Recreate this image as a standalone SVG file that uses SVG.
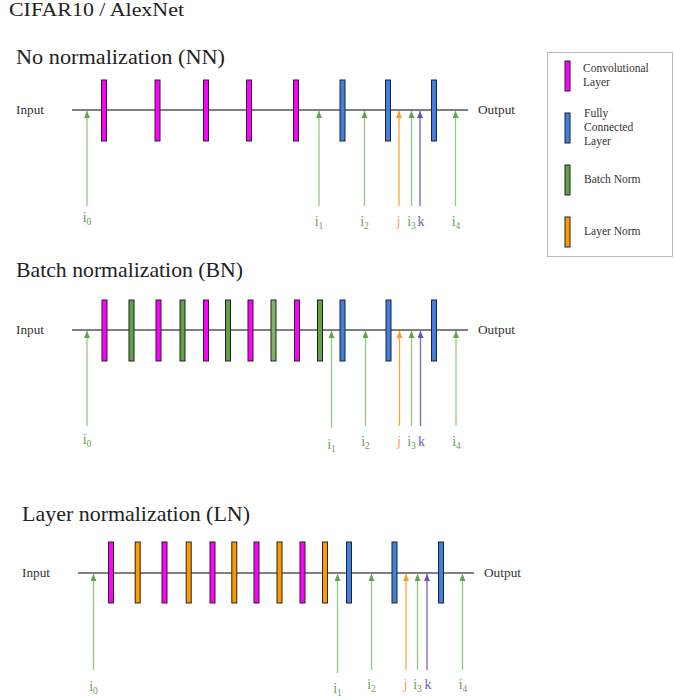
<svg xmlns="http://www.w3.org/2000/svg" width="674" height="700" viewBox="0 0 674 700">
<style>
text{font-family:"Liberation Serif","Times New Roman",serif;}
.title{font-size:21px;fill:#222;}
.small{font-size:12px;fill:#333;}
.leg{font-size:11.5px;fill:#333;}
.bar{stroke:#222;stroke-width:1;}
.conv{fill:#ff00ff;}
.fc{fill:#3f80e0;}
.bn{fill:#63a04a;}
.ln{fill:#ff9900;}
.axis{stroke:#555;stroke-width:1.5;fill:none;}
.ag{stroke:#7dbb68;stroke-opacity:0.8;stroke-width:1.3;marker-end:url(#hg);}
.ao{stroke:#ffa53a;stroke-width:1.3;marker-end:url(#ho);}
.ap{stroke:#7a63c0;stroke-width:1.3;marker-end:url(#hp);}
.lg{font-size:14px;fill:#6b9e55;text-anchor:middle;}
.lo{font-size:14px;fill:#f5a050;text-anchor:middle;}
.lp{font-size:14px;fill:#7060b8;text-anchor:middle;}
.sub{font-size:9.5px;}
</style>
<defs>
<marker id="hg" markerUnits="userSpaceOnUse" markerWidth="7" markerHeight="6" refX="7" refY="3" orient="auto"><path d="M0,0 L7,3 L0,6 z" fill="#62a24e"/></marker>
<marker id="ho" markerUnits="userSpaceOnUse" markerWidth="7" markerHeight="6" refX="7" refY="3" orient="auto"><path d="M0,0 L7,3 L0,6 z" fill="#ff9a2a"/></marker>
<marker id="hp" markerUnits="userSpaceOnUse" markerWidth="7" markerHeight="6" refX="7" refY="3" orient="auto"><path d="M0,0 L7,3 L0,6 z" fill="#6a50b8"/></marker>
</defs>
<rect width="674" height="700" fill="#fff"/>

<text x="9" y="16" style="font-size:19px;fill:#222" textLength="175" lengthAdjust="spacingAndGlyphs">CIFAR10 / AlexNet</text>

<!-- Section titles and io labels -->
<text class="title" x="16" y="64" textLength="209" lengthAdjust="spacingAndGlyphs">No normalization (NN)</text>
<text class="title" x="16" y="277" textLength="227" lengthAdjust="spacingAndGlyphs">Batch normalization (BN)</text>
<text class="title" x="22" y="521" textLength="228" lengthAdjust="spacingAndGlyphs">Layer normalization (LN)</text>

<text class="small" x="16" y="114" textLength="28" lengthAdjust="spacingAndGlyphs">Input</text>
<text class="small" x="478" y="114" textLength="37" lengthAdjust="spacingAndGlyphs">Output</text>
<text class="small" x="16" y="334" textLength="28" lengthAdjust="spacingAndGlyphs">Input</text>
<text class="small" x="478" y="334" textLength="37" lengthAdjust="spacingAndGlyphs">Output</text>
<text class="small" x="22" y="577" textLength="28" lengthAdjust="spacingAndGlyphs">Input</text>
<text class="small" x="484" y="577" textLength="37" lengthAdjust="spacingAndGlyphs">Output</text>

<!-- Connectors -->
<g id="connectors">
<line class="axis" x1="72" y1="110" x2="468" y2="110"/>
<line class="axis" x1="72" y1="330" x2="468" y2="330"/>
<line class="axis" x1="78" y1="573" x2="474" y2="573"/>
<!-- NN arrows -->
<line class="ag" x1="87" y1="206" x2="87" y2="111"/>
<line class="ag" x1="319" y1="206" x2="319" y2="111"/>
<line class="ag" x1="364.5" y1="206" x2="364.5" y2="111"/>
<line class="ao" x1="399" y1="206" x2="399" y2="111"/>
<line class="ag" x1="411.5" y1="206" x2="411.5" y2="111"/>
<line class="ap" x1="420" y1="206" x2="420" y2="111"/>
<line class="ag" x1="455.5" y1="206" x2="455.5" y2="111"/>
<!-- BN arrows -->
<line class="ag" x1="87" y1="426" x2="87" y2="331"/>
<line class="ag" x1="331.5" y1="428" x2="331.5" y2="331"/>
<line class="ag" x1="365.5" y1="426" x2="365.5" y2="331"/>
<line class="ao" x1="399.5" y1="426" x2="399.5" y2="331"/>
<line class="ag" x1="411.5" y1="426" x2="411.5" y2="331"/>
<line class="ap" x1="420.5" y1="426" x2="420.5" y2="331"/>
<line class="ag" x1="456" y1="426" x2="456" y2="331"/>
<!-- LN arrows -->
<line class="ag" x1="93.5" y1="670" x2="93.5" y2="574"/>
<line class="ag" x1="337.5" y1="673" x2="337.5" y2="574"/>
<line class="ag" x1="371.5" y1="670" x2="371.5" y2="574"/>
<line class="ao" x1="406" y1="670" x2="406" y2="574"/>
<line class="ag" x1="417.5" y1="670" x2="417.5" y2="574"/>
<line class="ap" x1="427" y1="670" x2="427" y2="574"/>
<line class="ag" x1="462.5" y1="670" x2="462.5" y2="574"/>
</g>

<!-- NN layers -->
<g id="nn-conv1"><rect class="bar conv" x="101.5" y="80" width="5" height="61"/></g>
<g id="nn-conv2"><rect class="bar conv" x="155" y="80" width="5" height="61"/></g>
<g id="nn-conv3"><rect class="bar conv" x="203.5" y="80" width="5" height="61"/></g>
<g id="nn-conv4"><rect class="bar conv" x="246.5" y="80" width="5" height="61"/></g>
<g id="nn-conv5"><rect class="bar conv" x="293.5" y="80" width="5" height="61"/></g>
<g id="nn-fc1"><rect class="bar fc" x="340" y="80" width="5" height="61"/></g>
<g id="nn-fc2"><rect class="bar fc" x="385.5" y="80" width="5" height="61"/></g>
<g id="nn-fc3"><rect class="bar fc" x="431.5" y="80" width="5" height="61"/></g>

<!-- BN layers -->
<g id="bn-conv1"><rect class="bar conv" x="102" y="300" width="5" height="61"/></g>
<g id="bn-bn1"><rect class="bar bn" x="129" y="300" width="5" height="61"/></g>
<g id="bn-conv2"><rect class="bar conv" x="156" y="300" width="5" height="61"/></g>
<g id="bn-bn2"><rect class="bar bn" x="180" y="300" width="5" height="61"/></g>
<g id="bn-conv3"><rect class="bar conv" x="203.5" y="300" width="5" height="61"/></g>
<g id="bn-bn3"><rect class="bar bn" x="225.5" y="300" width="5" height="61"/></g>
<g id="bn-conv4"><rect class="bar conv" x="248" y="300" width="5" height="61"/></g>
<g id="bn-bn4"><rect class="bar bn" x="271" y="300" width="5" height="61" style="fill:#7fb468"/></g>
<g id="bn-conv5"><rect class="bar conv" x="294.5" y="300" width="5" height="61"/></g>
<g id="bn-bn5"><rect class="bar bn" x="317.5" y="300" width="5" height="61"/></g>
<g id="bn-fc1"><rect class="bar fc" x="340" y="300" width="5" height="61"/></g>
<g id="bn-fc2"><rect class="bar fc" x="386" y="300" width="5" height="61"/></g>
<g id="bn-fc3"><rect class="bar fc" x="431.5" y="300" width="5" height="61"/></g>

<!-- LN layers -->
<g id="ln-conv1"><rect class="bar conv" x="108.5" y="542" width="5" height="61"/></g>
<g id="ln-ln1"><rect class="bar ln" x="135.2" y="542" width="5" height="61"/></g>
<g id="ln-conv2"><rect class="bar conv" x="162" y="542" width="5" height="61"/></g>
<g id="ln-ln2"><rect class="bar ln" x="186.2" y="542" width="5" height="61"/></g>
<g id="ln-conv3"><rect class="bar conv" x="210" y="542" width="5" height="61"/></g>
<g id="ln-ln3"><rect class="bar ln" x="231.8" y="542" width="5" height="61"/></g>
<g id="ln-conv4"><rect class="bar conv" x="254" y="542" width="5" height="61"/></g>
<g id="ln-ln4"><rect class="bar ln" x="277" y="542" width="5" height="61"/></g>
<g id="ln-conv5"><rect class="bar conv" x="300" y="542" width="5" height="61"/></g>
<g id="ln-ln5"><rect class="bar ln" x="322.5" y="542" width="5" height="61"/></g>
<g id="ln-fc1"><rect class="bar fc" x="346.5" y="542" width="5" height="61"/></g>
<g id="ln-fc2"><rect class="bar fc" x="392" y="542" width="5" height="61"/></g>
<g id="ln-fc3"><rect class="bar fc" x="438.5" y="542" width="5" height="61"/></g>

<!-- NN labels -->
<g id="nn-labels">
<text class="lg" x="87" y="222">i<tspan class="sub" dy="3">0</tspan></text>
<text class="lg" x="319" y="226">i<tspan class="sub" dy="3">1</tspan></text>
<text class="lg" x="364.5" y="226">i<tspan class="sub" dy="3">2</tspan></text>
<text class="lo" x="398.5" y="226">j</text>
<text class="lg" x="411.5" y="226">i<tspan class="sub" dy="3">3</tspan></text>
<text class="lp" x="421" y="226">k</text>
<text class="lg" x="456" y="226">i<tspan class="sub" dy="3">4</tspan></text>
</g>
<!-- BN labels -->
<g id="bn-labels">
<text class="lg" x="87" y="444">i<tspan class="sub" dy="3">0</tspan></text>
<text class="lg" x="331.5" y="449">i<tspan class="sub" dy="3">1</tspan></text>
<text class="lg" x="365.5" y="446">i<tspan class="sub" dy="3">2</tspan></text>
<text class="lo" x="399" y="446">j</text>
<text class="lg" x="411.5" y="446">i<tspan class="sub" dy="3">3</tspan></text>
<text class="lp" x="421.5" y="446">k</text>
<text class="lg" x="456.5" y="446">i<tspan class="sub" dy="3">4</tspan></text>
</g>
<!-- LN labels -->
<g id="ln-labels">
<text class="lg" x="93.5" y="691">i<tspan class="sub" dy="3">0</tspan></text>
<text class="lg" x="337.5" y="693">i<tspan class="sub" dy="3">1</tspan></text>
<text class="lg" x="371.5" y="689">i<tspan class="sub" dy="3">2</tspan></text>
<text class="lo" x="405.5" y="689">j</text>
<text class="lg" x="417.5" y="689">i<tspan class="sub" dy="3">3</tspan></text>
<text class="lp" x="428" y="689">k</text>
<text class="lg" x="463" y="689">i<tspan class="sub" dy="3">4</tspan></text>
</g>

<!-- Legend -->
<g id="legend">
<rect x="547.5" y="52.5" width="125" height="204" fill="#fff" stroke="#bbb" stroke-width="1"/>
<g id="leg-conv"><rect class="bar conv" x="565" y="61" width="5" height="30"/>
<text class="leg" x="583" y="72">Convolutional</text><text class="leg" x="583" y="86">Layer</text></g>
<g id="leg-fc"><rect class="bar fc" x="565" y="113" width="5" height="30"/>
<text class="leg" x="584" y="117">Fully</text><text class="leg" x="584" y="131">Connected</text><text class="leg" x="584" y="145">Layer</text></g>
<g id="leg-bn"><rect class="bar bn" x="565" y="165" width="5" height="30"/>
<text class="leg" x="584" y="183">Batch Norm</text></g>
<g id="leg-ln"><rect class="bar ln" x="565" y="217" width="5" height="30"/>
<text class="leg" x="584" y="235">Layer Norm</text></g>
</g>
</svg>
